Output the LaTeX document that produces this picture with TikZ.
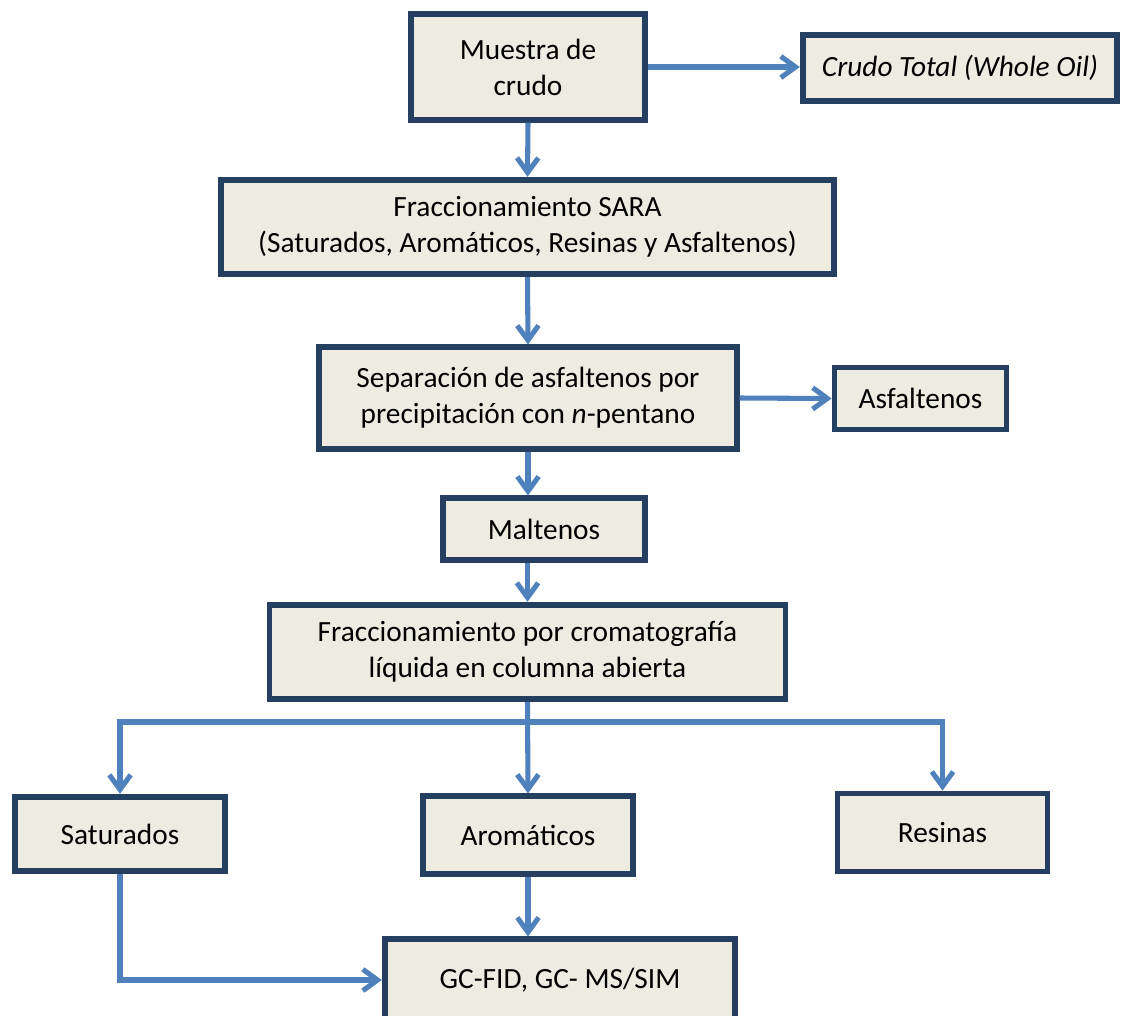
\documentclass[tikz,border=0pt]{standalone}
\usepackage{fontspec}
\setmainfont{Carlito}
\usetikzlibrary{arrows.meta}
\definecolor{relleno}{HTML}{EEECE1}
\definecolor{borde}{HTML}{243F60}
\definecolor{azul}{HTML}{4F81BD}
\tikzset{
  caja/.style={draw=borde, line width=4.3pt, fill=relleno, align=center, inner sep=0pt,
    font=\fontsize{22}{27}\selectfont},
  flecha/.style={->, draw=azul, line width=3.8pt}
}
\begin{document}
\begin{tikzpicture}[x=0.75pt, y=-0.75pt, >={Straight Barb[length=11pt,width=16pt]}]
\useasboundingbox (0,0) rectangle (1125,1015);
\node[caja, minimum width=176pt, minimum height=79pt] (muestra) at (528,67) {Muestra de\\crudo};
\node[caja, minimum width=236pt, minimum height=50pt] (total) at (960,68) {\itshape Crudo Total (Whole Oil)};
\node[caja, minimum width=460pt, minimum height=71pt] (sara) at (527.5,227) {Fraccionamiento SARA\\(Saturados, Aromáticos, Resinas y Asfaltenos)};
\node[caja, minimum width=313pt, minimum height=76pt] (separa) at (528,398) {Separación de asfaltenos por\\precipitación con \textit{n}-pentano};
\node[caja, minimum width=129pt, minimum height=46.5pt] (asfal) at (920.5,398.5) {Asfaltenos};
\node[caja, minimum width=152pt, minimum height=46pt] (malte) at (544,529) {Maltenos};
\node[caja, minimum width=387pt, minimum height=71pt] (cromato) at (527.5,652) {Fraccionamiento por cromatografía\\líquida en columna abierta};
\node[caja, minimum width=157pt, minimum height=56pt] (satur) at (120,834) {Saturados};
\node[caja, minimum width=157pt, minimum height=58pt] (aroma) at (528,835) {Aromáticos};
\node[caja, minimum width=157.5pt, minimum height=58.5pt] (resin) at (942.5,832.5) {Resinas};
\node[caja, minimum width=263pt, minimum height=61pt] (gc) at (560,980) {GC-FID, GC- MS/SIM};
\coordinate (reparto) at (527.5,722);

\draw[flecha] (muestra.east) -- (muestra.east -| total.west);
\draw[flecha] (muestra.south) -- (sara.north);
\draw[flecha] (sara.south) -- (separa.north);
\draw[flecha] (separa.east) -- (asfal.west);
\draw[flecha] (separa.south) -- (separa.south |- malte.north);
\draw[flecha] (cromato.north |- malte.south) -- (cromato.north);
\draw[flecha] (cromato.south) -- (aroma.north);
\draw[flecha] (reparto) -| (satur.north);
\draw[flecha] (reparto) -| (resin.north);
\draw[flecha] (satur.south) |- (gc.west);
\draw[flecha] (aroma.south) -- (aroma.south |- gc.north);
\end{tikzpicture}
\end{document}
